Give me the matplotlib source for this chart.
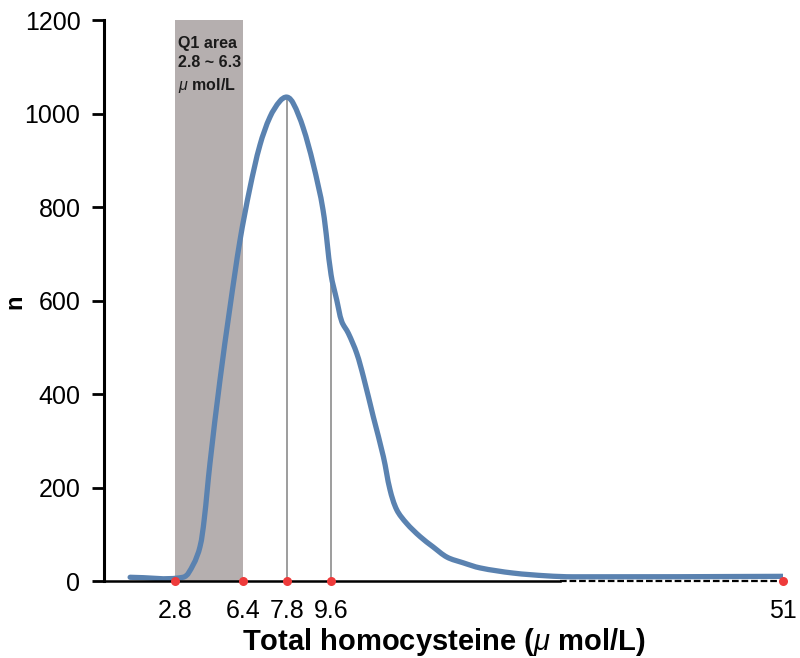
import numpy as np
import matplotlib
matplotlib.use("Agg")
import matplotlib.pyplot as plt
from matplotlib.scale import FuncScale
from matplotlib.path import Path
from matplotlib.patches import PathPatch

plt.rcParams['font.family'] = ['Liberation Sans', 'DejaVu Sans']
plt.rcParams['mathtext.fontset'] = 'custom'
plt.rcParams['mathtext.rm'] = 'Liberation Sans'
plt.rcParams['mathtext.it'] = 'Liberation Sans:italic'
plt.rcParams['mathtext.bf'] = 'Liberation Sans:bold'

# ---- data ----
hcy = [1.03, 3.22, 3.75, 4.12, 4.34, 4.65, 5.18, 5.71, 6.24, 6.62, 6.94,
       7.26, 7.58, 7.80, 8.05, 8.45, 8.86, 9.27, 9.60, 10.12, 10.58, 11.18,
       11.95, 12.56, 13.47, 14.39, 15.00, 15.62, 16.53, 17.75, 18.94, 20.22,
       21.69, 23.25, 26.27, 29.38, 31.76, 51.0]
n_count = [8, 8, 34, 73, 130, 252, 430, 586, 729, 841, 933,
           993, 1027, 1035, 1022, 971, 894, 794, 655, 601, 555, 530,
           487, 437, 351, 266, 195, 152, 123, 95, 73, 51,
           39, 28, 17, 11, 9, 10]

marker_vals = [2.8, 6.4, 7.8, 9.6, 51]
marker_labels = ["2.8", "6.4", "7.8", "9.6", "51"]
guide_vals = [7.8, 9.6]
q1_range = [2.8, 6.4]
q1_text = "Q1 area\n2.8 ~ 6.3\n$\\mu$ mol/L"
dashed_from = 30.6
y_ticks = [0, 200, 400, 600, 800, 1000, 1200]

# piecewise (broken) x scale anchors
scale_vals = np.array([0, 2.8, 6.4, 7.8, 9.6, 51.0])
scale_pos = np.array([0, 71, 139, 183, 227, 679.0])


def _pw(v, a, b):
    v = np.asarray(v, dtype=float)
    out = np.interp(v, a, b)
    s0 = (b[1] - b[0]) / (a[1] - a[0])
    s1 = (b[-1] - b[-2]) / (a[-1] - a[-2])
    out = np.where(v < a[0], b[0] + (v - a[0]) * s0, out)
    out = np.where(v > a[-1], b[-1] + (v - a[-1]) * s1, out)
    return out


def fwd(v):
    return _pw(v, scale_vals, scale_pos)


def inv(p):
    return _pw(p, scale_pos, scale_vals)


def smooth_path(xv, yv, yscale):
    """Bezier path through the points (tangents from neighbours)."""
    px = fwd(xv)
    py = np.asarray(yv, float) * yscale
    P = np.column_stack([px, py])
    N = len(P)
    T = np.zeros_like(P)
    for i in range(N):
        a = P[max(i - 1, 0)]
        b = P[min(i + 1, N - 1)]
        d = b - a
        T[i] = d / np.hypot(*d)
    verts = [P[0]]
    codes = [Path.MOVETO]
    for i in range(N - 1):
        L = np.hypot(*(P[i + 1] - P[i]))
        c1 = P[i] + T[i] * L / 3
        c2 = P[i + 1] - T[i + 1] * L / 3
        verts += [c1, c2, P[i + 1]]
        codes += [Path.CURVE4] * 3
    verts = np.array(verts)
    verts[:, 0] = inv(verts[:, 0])
    verts[:, 1] = verts[:, 1] / yscale
    return Path(verts, codes)


fig = plt.figure(figsize=(8, 6.58), dpi=100)
ax = fig.add_axes([0.13, 0.117, 0.849, 0.8526])
ax.set_xscale(FuncScale(ax, (fwd, inv)))
ax.set_xlim(0, 51)
ax.set_ylim(0, 1200)

# Q1 shaded area
ax.axvspan(q1_range[0], q1_range[1], color='#b5afaf', lw=0, zorder=1)
ax.text(2.95, 1166, q1_text, fontsize=11.5, fontweight='bold',
        ha='left', va='top', linespacing=1.38, color='#1a1a1a', zorder=5)

# guide lines
guide_h = np.interp(guide_vals, hcy, n_count)
ax.vlines(guide_vals, 0, guide_h, colors='#8c8c8c', lw=1.2, zorder=2)

# curve
curve = smooth_path(hcy, n_count, 0.4675)
ax.add_patch(PathPatch(curve, fill=False, edgecolor='#5a82b0', lw=3.8,
                       joinstyle='round', capstyle='round', zorder=4))

# x axis line (solid then dashed)
ax.plot([0, dashed_from], [0, 0], color='black', lw=1.8, clip_on=False, zorder=6)
ax.plot([dashed_from, 51], [0, 0], color='black', lw=1.6, ls=(0, (3, 1.3)),
        clip_on=False, zorder=6)

# red markers
ax.plot(marker_vals, [0] * len(marker_vals), 'o', color='#ee3b3b', ms=6.5,
        mec='none', clip_on=False, zorder=7)

ax.set_xticks(marker_vals)
ax.set_xticklabels(marker_labels)
ax.tick_params(axis='x', length=0, pad=13, labelsize=18)
ax.xaxis.set_minor_locator(matplotlib.ticker.NullLocator())
ax.set_yticks(y_ticks)
ax.tick_params(axis='y', length=9, width=2, pad=8, labelsize=18)

for s in ['top', 'right', 'bottom']:
    ax.spines[s].set_visible(False)
ax.spines['left'].set_linewidth(2.2)

ax.set_xlabel("Total homocysteine ($\\mu$ mol/L)", fontsize=21,
              fontweight='bold', labelpad=2)
ax.set_ylabel("n", fontsize=17, fontweight='bold')
ax.yaxis.label.set_verticalalignment('center')
ax.yaxis.set_label_coords(-0.1318, 0.497)

fig.savefig("out.png", dpi=100)
